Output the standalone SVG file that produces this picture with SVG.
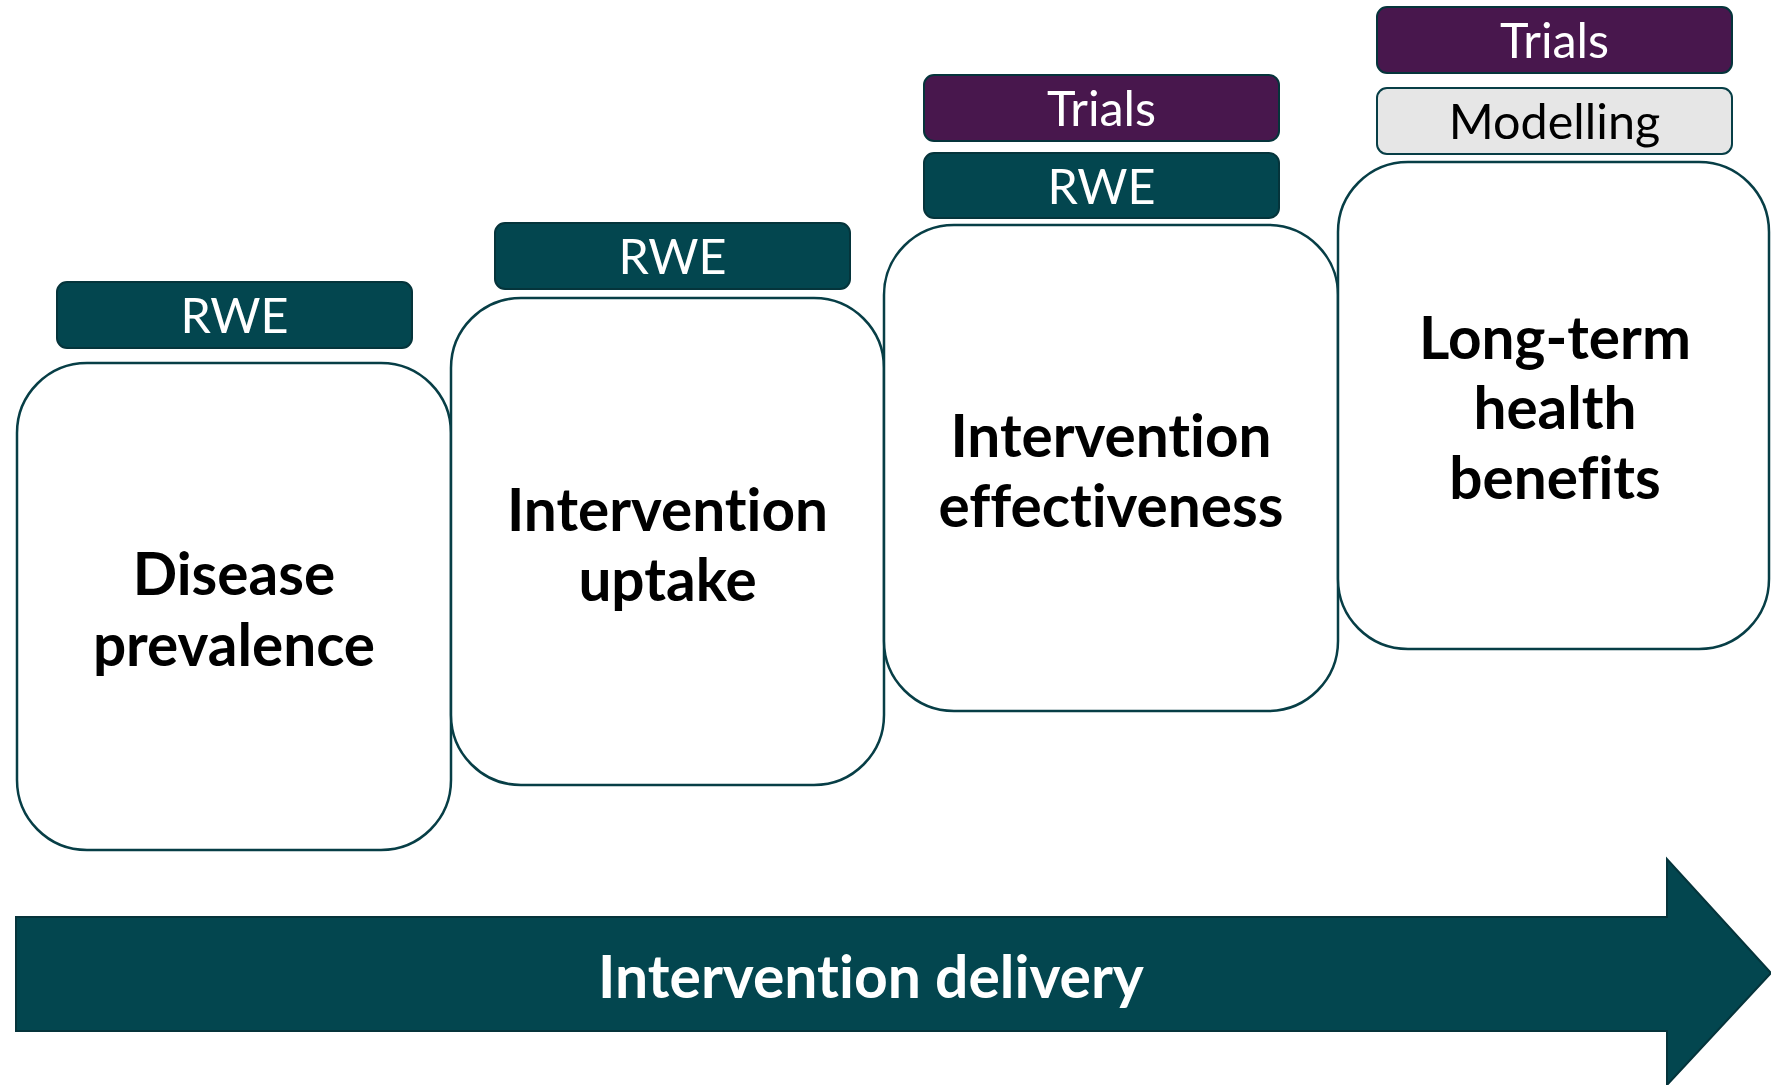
<svg xmlns="http://www.w3.org/2000/svg" width="1771" height="1085" viewBox="0 0 1771 1085">
<style>
text{font-variant-ligatures:none;font-feature-settings:"liga" 0,"clig" 0}
.box{fill:#ffffff;stroke:#073e46;stroke-width:2.5}
.rwe{fill:#03464f;stroke:#05343b;stroke-width:2}
.trials{fill:#48174d;stroke:#05343b;stroke-width:2}
.model{fill:#e6e6e6;stroke:#073e46;stroke-width:2}
.bt{font-family:Lato,"Liberation Sans",sans-serif;font-size:48.5px;text-anchor:middle;fill:#ffffff}
.btd{fill:#000000}
.main{font-family:Lato,"Liberation Sans",sans-serif;font-size:58.5px;font-weight:bold;text-anchor:middle;fill:#000000}
.arrow{fill:#03464f;stroke:#05343b;stroke-width:2}
.at{font-family:Lato,"Liberation Sans",sans-serif;font-size:58.8px;font-weight:bold;text-anchor:middle;fill:#ffffff}
</style>
<rect width="1771" height="1085" fill="#ffffff"/>
<g id="connectors">
<g id="delivery-arrow">
<polygon class="arrow" points="16,917 1667,917 1667,859 1771,973 1667,1085 1667,1031 16,1031"/>
<text class="at" x="871" y="998">Intervention delivery</text>
</g>
</g>
<g id="node-prevalence">
<rect class="box" x="17" y="363" width="434" height="487" rx="70" ry="70"/>
<text class="main" x="234" y="595">Disease</text>
<text class="main" x="234" y="666">prevalence</text>
</g>
<g id="badge-rwe-1">
<rect class="rwe" x="57" y="282" width="355" height="66" rx="10"/>
<text class="bt" x="234.5" y="333">RWE</text>
</g>
<g id="node-uptake">
<rect class="box" x="451" y="298" width="433" height="487" rx="70" ry="70"/>
<text class="main" x="667.5" y="531">Intervention</text>
<text class="main" x="667.5" y="601">uptake</text>
</g>
<g id="badge-rwe-2">
<rect class="rwe" x="495" y="223" width="355" height="66" rx="10"/>
<text class="bt" x="672.5" y="274">RWE</text>
</g>
<g id="node-effectiveness">
<rect class="box" x="884" y="225" width="454" height="486" rx="70" ry="70"/>
<text class="main" x="1111" y="457">Intervention</text>
<text class="main" x="1111" y="527">effectiveness</text>
</g>
<g id="badge-trials-3">
<rect class="trials" x="924" y="75" width="355" height="66" rx="10"/>
<text class="bt" x="1101.5" y="126">Trials</text>
</g>
<g id="badge-rwe-3">
<rect class="rwe" x="924" y="153" width="355" height="65" rx="10"/>
<text class="bt" x="1101.5" y="204">RWE</text>
</g>
<g id="node-longterm">
<rect class="box" x="1338" y="162" width="431" height="487" rx="70" ry="70"/>
<text class="main" x="1555" y="359">Long-term</text>
<text class="main" x="1555" y="429">health</text>
<text class="main" x="1555" y="499">benefits</text>
</g>
<g id="badge-trials-4">
<rect class="trials" x="1377" y="7" width="355" height="66" rx="10"/>
<text class="bt" x="1554.5" y="58">Trials</text>
</g>
<g id="badge-modelling-4">
<rect class="model" x="1377" y="88" width="355" height="66" rx="10"/>
<text class="bt btd" x="1554.5" y="139">Modelling</text>
</g>
</svg>
